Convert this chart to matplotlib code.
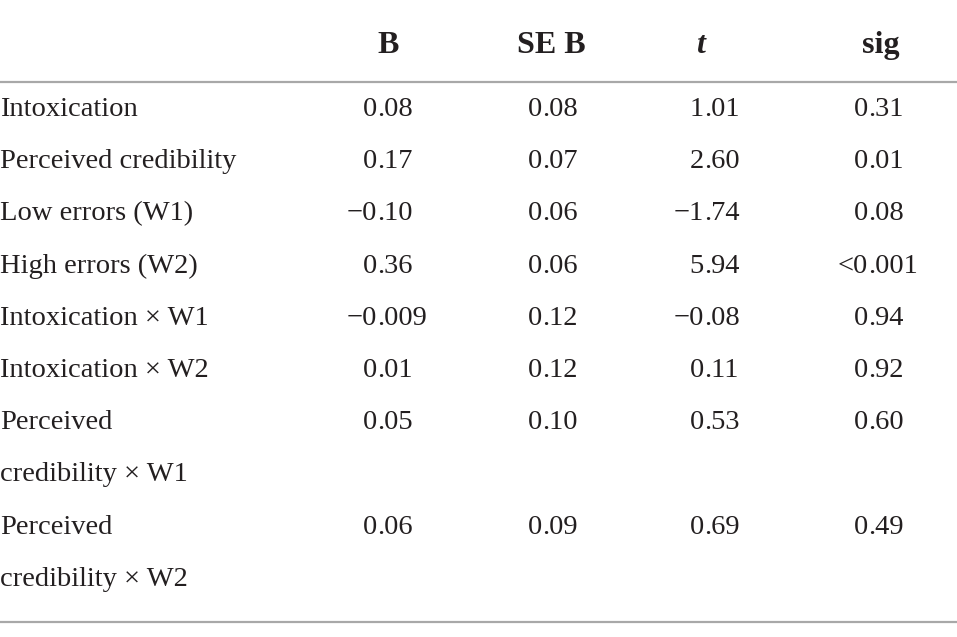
import matplotlib
matplotlib.use("Agg")
import matplotlib.pyplot as plt

# table content
headers = ["B", "SE B", "t", "sig"]
labels = ["Intoxication", "Perceived credibility", "Low errors (W1)", "High errors (W2)",
          "Intoxication \u00d7 W1", "Intoxication \u00d7 W2",
          "Perceived\ncredibility \u00d7 W1", "Perceived\ncredibility \u00d7 W2"]
b_vals = ["0.08", "0.17", "\u22120.10", "0.36", "\u22120.009", "0.01", "0.05", "0.06"]
se_vals = ["0.08", "0.07", "0.06", "0.06", "0.12", "0.12", "0.10", "0.09"]
t_vals = ["1.01", "2.60", "\u22121.74", "5.94", "\u22120.08", "0.11", "0.53", "0.69"]
sig_vals = ["0.31", "0.01", "0.08", "<0.001", "0.94", "0.92", "0.60", "0.49"]

W, H = 957, 637
fig = plt.figure(figsize=(W / 100, H / 100), dpi=100)
ax = fig.add_axes([0, 0, 1, 1])
ax.set_xlim(0, W)
ax.set_ylim(H, 0)
ax.axis("off")

col = "#231f20"
font = "Liberation Serif"
fs = 20.5

# header
head_x = [388, 551, 700, 881]
for i, h in enumerate(headers):
    style = "italic" if h == "t" else "normal"
    ax.text(head_x[i], 53, h, ha="center", va="baseline", fontsize=23,
            fontweight="bold", fontstyle=style, family=font, color=col)

ax.axhline(81.5, color="#a8a8a8", lw=1.6)
ax.axhline(622, color="#a8a8a8", lw=1.6)

# rows
base0 = 116
step = 52.2
decimal_x = [377, 542, 704, 868]
columns = [b_vals, se_vals, t_vals, sig_vals]

line = 0
for r, lab in enumerate(labels):
    y = base0 + step * line
    parts = lab.split("\n")
    for k, p in enumerate(parts):
        ax.text(0, y + step * k, p, ha="left", va="baseline", fontsize=fs,
                family=font, color=col)
    for c, vals in enumerate(columns):
        s = vals[r]
        ip, fp = s.split(".")
        ax.text(decimal_x[c], y, ip, ha="right", va="baseline", fontsize=fs,
                family=font, color=col)
        ax.text(decimal_x[c], y, "." + fp, ha="left", va="baseline", fontsize=fs,
                family=font, color=col)
    line += len(parts)

fig.savefig("out.png", dpi=100, facecolor="white")
